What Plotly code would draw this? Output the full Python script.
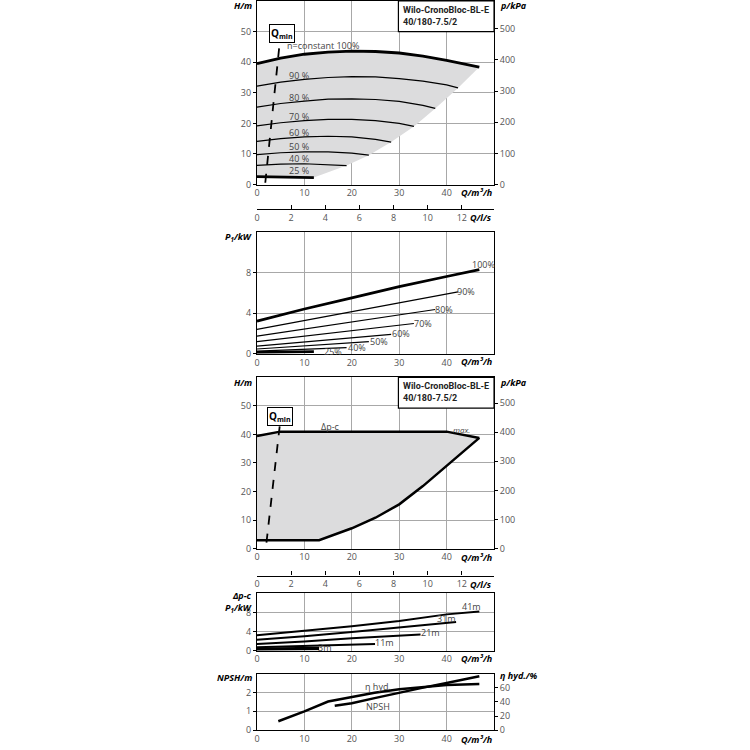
import plotly.graph_objects as go

# ---- chart 1: H over Q at constant speed ----
q100 = [0, 5, 10, 15, 20, 25, 30, 35, 40, 45, 46.9]
h100 = [39.5, 41.3, 42.6, 43.3, 43.6, 43.5, 43.0, 42.0, 40.6, 39.0, 38.4]
q90 = [0, 5, 10, 15, 20, 25, 30, 35, 40, 42.4]
h90 = [32.2, 33.5, 34.4, 35.0, 35.3, 35.2, 34.6, 33.8, 32.6, 31.6]
q80 = [0, 5, 10, 15, 20, 25, 30, 35, 37.6]
h80 = [25.3, 26.5, 27.3, 27.9, 28.0, 27.8, 27.2, 25.9, 24.9]
q70 = [0, 5, 10, 15, 20, 25, 30, 33.1]
h70 = [19.2, 20.2, 20.9, 21.3, 21.3, 20.9, 20.0, 19.0]
q60 = [0, 5, 10, 15, 20, 25, 28.3]
h60 = [14.1, 15.0, 15.6, 15.8, 15.6, 14.8, 13.9]
q50 = [0, 5, 10, 15, 20, 23.6]
h50 = [9.8, 10.4, 10.7, 10.7, 10.3, 9.6]
q40 = [0, 5, 10, 15, 18.9]
h40 = [6.3, 6.7, 6.8, 6.6, 6.2]
q25 = [0, 6, 12]
h25 = [2.6, 2.5, 2.3]
# lower edge of the grey field, high flow back to low flow
edge_q = [46.9, 42.4, 37.6, 33.1, 28.3, 23.6, 18.9, 12.0]
edge_h = [38.4, 31.6, 24.9, 19.0, 13.9, 9.6, 6.2, 2.3]
qmin_q = [1.75, 4.9]
qmin_h = [0.6, 48.0]

# ---- chart 2: P1 ----
p100 = [3.2, 4.4, 5.5, 6.6, 7.6, 8.27]
pq100 = [0, 10, 20, 30, 40, 46.9]
p_q = [[0, 42.4], [0, 37.6], [0, 33.1], [0, 28.3], [0, 23.6], [0, 18.9], [0, 12]]
p_kw = [[2.4, 6.08], [1.73, 4.35], [1.18, 2.97], [0.75, 1.9], [0.46, 1.18], [0.26, 0.59], [0.13, 0.2]]
p_names = ["90%", "80%", "70%", "60%", "50%", "40%", "25%"]

# ---- chart 3: delta p-c field ----
top_q = [0, 4.9, 40, 46.9]
top_h = [39.5, 41, 41, 38.8]
sys_q = [46.9, 40, 35, 30, 25, 20, 13.1, 0]
sys_h = [38.8, 29.1, 21.9, 15.5, 10.8, 7.1, 2.9, 2.9]
qmin2_q = [2.0, 4.9]
qmin2_h = [2.1, 44.5]

# ---- chart 4: P1 at delta p-c ----
dq41 = [0, 10, 20, 30, 40, 46.9]
dp41 = [3.2, 4.1, 5.1, 6.2, 7.6, 8.2]
dq31 = [0, 10, 20, 30, 42]
dp31 = [2.3, 3.0, 3.9, 4.8, 6.0]
dq21 = [0, 10, 20, 34.5]
dp21 = [1.36, 1.9, 2.6, 3.36]
dq11 = [0, 12, 24.9]
dp11 = [0.7, 1.0, 1.36]
dq3 = [0, 13.1]
dp3 = [0.3, 0.43]

# ---- chart 5: NPSH and efficiency ----
npsh_q = [16.4, 20, 24.8, 30, 35.3, 40, 46.9]
npsh = [1.29, 1.43, 1.70, 2.0, 2.27, 2.5, 2.86]
eta_q = [4.5, 10, 15, 20, 24.8, 30, 35.3, 40, 46.9]
eta = [12.6, 26.6, 40.6, 46.6, 53, 57.8, 60.6, 63.9, 65.3]

FONT = "Open Sans"
GRID = "#a8a8a8"
TICK = "#555555"
SHADE = "#dcdcdd"

W = 750.0
def px(v):
    return v / W
def py(v):
    return 1 - v / W

XDOM = [px(255), px(493)]

fig = go.Figure()

def line(x, y, xa, ya, w=1.2, dash=None):
    fig.add_trace(go.Scatter(x=x, y=y, mode="lines", xaxis=xa, yaxis=ya,
                             line=dict(color="black", width=w, dash=dash),
                             hoverinfo="skip", showlegend=False))

# chart 1
fig.add_trace(go.Scatter(x=q100 + edge_q + q25[::-1], y=h100 + edge_h + h25[::-1],
                         fill="toself", fillcolor=SHADE, line=dict(width=0),
                         mode="lines", xaxis="x", yaxis="y", hoverinfo="skip", showlegend=False))
for qq, hh in [(q90, h90), (q80, h80), (q70, h70), (q60, h60), (q50, h50), (q40, h40)]:
    line(qq, hh, "x", "y", 1.2)
line(q100, h100, "x", "y", 2.8)
line(q25, h25, "x", "y", 2.8)
line(qmin_q, qmin_h, "x", "y", 1.8, "dash")

# chart 2
line(pq100, p100, "x2", "y3", 2.8)
for i, (qq, pp) in enumerate(zip(p_q, p_kw)):
    line(qq, pp, "x2", "y3", 2.8 if p_names[i] == "25%" else 1.2)

# chart 3
fig.add_trace(go.Scatter(x=top_q + sys_q, y=top_h + sys_h, fill="toself", fillcolor=SHADE,
                         line=dict(width=0), mode="lines", xaxis="x3", yaxis="y4",
                         hoverinfo="skip", showlegend=False))
line(top_q, top_h, "x3", "y4", 2.5)
line(sys_q, sys_h, "x3", "y4", 2.5)
line(qmin2_q, qmin2_h, "x3", "y4", 1.8, "dash")

# chart 4
for qq, pp in [(dq41, dp41), (dq31, dp31), (dq21, dp21), (dq11, dp11)]:
    line(qq, pp, "x4", "y6", 2.0)
line(dq3, dp3, "x4", "y6", 3.5)

# chart 5
line(npsh_q, npsh, "x5", "y7", 2.5)
line(eta_q, eta, "x5", "y8", 2.5)

# empty traces so the l/s and kPa axes get drawn
for xa, ya in [("x6", "y"), ("x7", "y4"), ("x", "y2"), ("x3", "y5")]:
    fig.add_trace(go.Scatter(x=[], y=[], xaxis=xa, yaxis=ya, showlegend=False, hoverinfo="skip"))

tickfont = dict(family=FONT, size=9, color=TICK)

def xax(dom_anchor, show_labels=True):
    return dict(domain=XDOM, range=[0, 50], anchor=dom_anchor, tickvals=[0, 10, 20, 30, 40],
                showgrid=True, gridcolor=GRID, gridwidth=1, showline=True, linecolor="black",
                linewidth=1.2, mirror=True, ticks="", tickfont=tickfont, zeroline=False,
                showticklabels=show_labels, fixedrange=True)

def yax(dom, rng, vals, anchor, grid=True):
    return dict(domain=dom, range=rng, tickvals=vals, anchor=anchor, showgrid=grid, gridcolor=GRID,
                showline=True, linecolor="black", linewidth=1.2, mirror=True, ticks="outside",
                ticklen=3, tickcolor="black", tickfont=tickfont, zeroline=False, fixedrange=True)

def yright(over, rng, vals, anchor):
    return dict(overlaying=over, side="right", range=rng, tickvals=vals, anchor=anchor,
                showgrid=False, ticks="outside", ticklen=3, tickcolor="black", tickfont=tickfont,
                showline=False, zeroline=False, fixedrange=True)

def lsax(pos, over):
    return dict(domain=XDOM, range=[0, 50 / 3.6], anchor="free", position=pos, overlaying=over,
                tickvals=[0, 2, 4, 6, 8, 10, 12], showgrid=False, showline=True,
                linecolor="black", linewidth=1.2, ticks="inside", ticklen=4, tickcolor="black",
                tickfont=tickfont, zeroline=False, fixedrange=True)

fig.update_layout(
    width=750, height=750, margin=dict(l=0, r=0, t=0, b=0),
    paper_bgcolor="white", plot_bgcolor="rgba(0,0,0,0)",
    xaxis=xax("y"),
    yaxis=yax([py(185.3), 1.0], [0, 60], [0, 10, 20, 30, 40, 50], "x"),
    yaxis2=yright("y", [0, 588.6], [0, 100, 200, 300, 400, 500], "x"),
    xaxis2=xax("y3"),
    yaxis3=yax([py(356), py(233)], [0, 12], [0, 4, 8], "x2"),
    xaxis3=xax("y4"),
    yaxis4=yax([py(552.7), py(380)], [0, 60], [0, 10, 20, 30, 40, 50], "x3"),
    yaxis5=yright("y4", [0, 588.6], [0, 100, 200, 300, 400, 500], "x3"),
    xaxis4=xax("y6"),
    yaxis6=yax([py(655.7), py(598)], [0, 12], [0, 4, 8], "x4"),
    xaxis5=xax("y7"),
    yaxis7=yax([py(736), py(679)], [0, 3], [0, 1, 2], "x5"),
    yaxis8=yright("y7", [0, 80], [0, 20, 40, 60], "x5"),
    xaxis6=lsax(py(210), "x"),
    xaxis7=lsax(py(580), "x3"),
)

title_font = dict(family=FONT, size=9, color="black")

def ann(text, x, y, xa="left", ya="middle", font=None, **kw):
    fig.add_annotation(text=text, x=x, y=y, xref="paper", yref="paper", xanchor=xa, yanchor=ya,
                       showarrow=False, font=font or title_font, **kw)

def bi(t):
    return "<b><i>" + t + "</i></b>"

# axis titles
for ytop in [5, 385]:
    ann(bi("H/m"), px(252), py(ytop), "right")
    ann(bi("p/kPa"), px(497), py(ytop), "left")
for ybot in [193, 364, 562, 664, 745]:
    ann(bi("Q/m³/h"), px(493), py(ybot), "right")
for ybot in [219, 589]:
    ann(bi("Q/l/s"), px(493), py(ybot), "right")
ann(bi("P<sub>1</sub>/kW"), px(252), py(238), "right")
ann(bi("Δp-c<br>P<sub>1</sub>/kW"), px(252), py(607), "right", align="right")
ann(bi("NPSH/m"), px(252), py(683), "right")
ann(bi("η hyd./%"), px(497), py(681), "left")

# type boxes
for top in [0, 380]:
    fig.add_shape(type="rect", xref="paper", yref="paper", x0=px(397), x1=px(493),
                  y0=py(top + 31), y1=py(top), line=dict(color="black", width=1.2),
                  fillcolor="white", layer="above")
    ann("<b>Wilo-CronoBloc-BL-E<br>40/180-7.5/2</b>", px(400), py(top + 2), "left", "top",
        font=dict(family="Roboto", size=9, color="#222222"), align="left")

# Qmin boxes
for qx, hy, ya in [(5.2, 49.3, "y"), (4.9, 46.4, "y4")]:
    fig.add_annotation(text="<b>Q<sub>min</sub></b>", x=qx, y=hy, xref="x" if ya == "y" else "x3",
                       yref=ya, showarrow=False, font=dict(family=FONT, size=10, color="black"),
                       bordercolor="black", borderwidth=1, borderpad=1, bgcolor="white")

# curve labels chart 1
lab_font = dict(family=FONT, size=9, color="#444444")
fig.add_annotation(text="n=constant 100%", x=6.0, y=45.3, xref="x", yref="y", xanchor="left",
                   showarrow=False, font=lab_font)
for txt, hy in [("90 %", 35.7), ("80 %", 28.6), ("70 %", 22.3), ("60 %", 17.1),
                ("50 %", 12.4), ("40 %", 8.4), ("25 %", 4.5)]:
    fig.add_annotation(text=txt, x=6.3, y=hy, xref="x", yref="y", xanchor="left",
                       showarrow=False, font=lab_font)

# curve labels chart 2
for txt, qx, pv in [("100%", 47.8, 8.8), ("90%", 44.0, 6.1), ("80%", 39.5, 4.35), ("70%", 35.0, 2.97),
                    ("60%", 30.4, 1.96), ("50%", 25.7, 1.18), ("40%", 21.0, 0.6), ("25%", 16.0, 0.2)]:
    fig.add_annotation(text=txt, x=qx, y=pv, xref="x2", yref="y3", showarrow=False, font=lab_font)

# chart 3 labels
fig.add_annotation(text="Δp-c", x=15.5, y=42.9, xref="x3", yref="y4", showarrow=False, font=lab_font)
fig.add_annotation(text="<i>max.</i>", x=43.2, y=41.6, xref="x3", yref="y4", showarrow=False,
                   font=dict(family=FONT, size=8, color="#444444"))

# chart 4 labels
for txt, qx, pv in [("41m", 45.3, 9.3), ("31m", 40.0, 6.8), ("21m", 36.6, 3.8),
                    ("11m", 26.8, 1.7), ("3m", 14.3, 0.6)]:
    fig.add_annotation(text=txt, x=qx, y=pv, xref="x4", yref="y6", showarrow=False, font=lab_font)

# chart 5 labels
fig.add_annotation(text="η hyd.", x=25.5, y=2.33, xref="x5", yref="y7", showarrow=False, font=lab_font)
fig.add_annotation(text="NPSH", x=25.5, y=1.23, xref="x5", yref="y7", showarrow=False, font=lab_font)

# drop the default page margin so the figure sits at the window corner
fig.write_html("out.html", config={"displayModeBar": False},
               post_script="document.body.style.margin='0px';")
